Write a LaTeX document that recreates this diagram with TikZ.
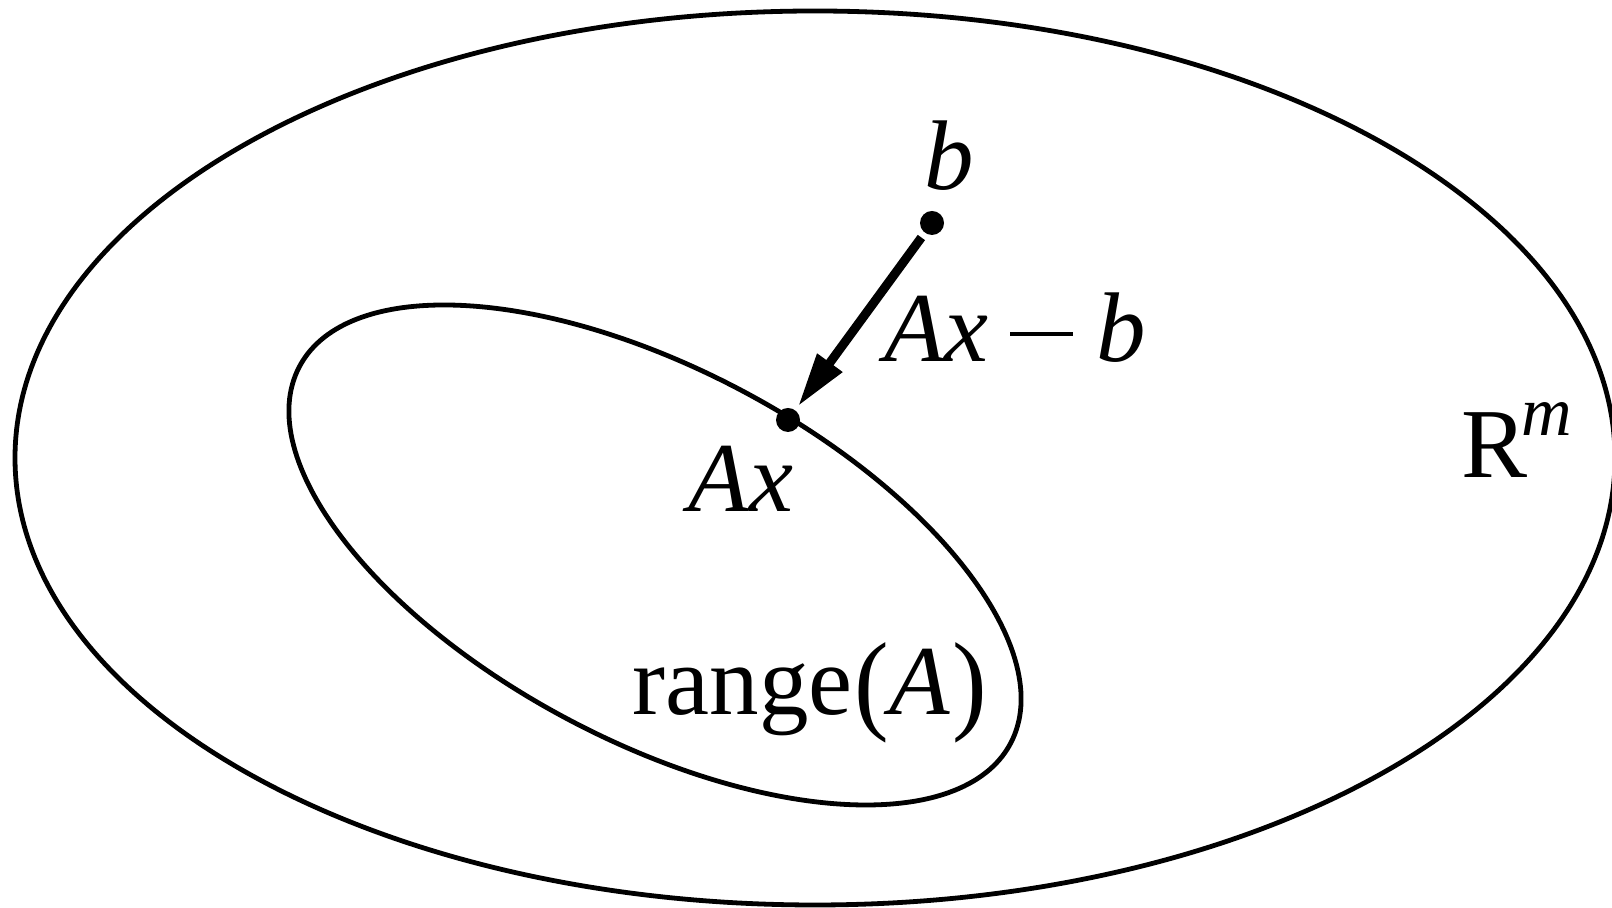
\documentclass[tikz,border=0pt]{standalone}
\usepackage{fontspec}
\setmainfont{Liberation Serif}[ItalicFont={Liberation Serif Italic}]
\usetikzlibrary{arrows.meta}
\begin{document}
\begin{tikzpicture}[x=0.5pt,y=0.5pt,
  curve/.style={line width=2.4pt},
  dot/.style={circle,fill=black,inner sep=0pt,outer sep=0pt,minimum size=12pt},
  lbl/.style={inner sep=0pt,anchor=base,font=\fontsize{49.5}{59}\selectfont},
  vec/.style={line width=4.5pt,-{Triangle[length=27pt,width=14.5pt]},shorten <=3pt,shorten >=2.5pt}]
\useasboundingbox (0,0) rectangle (1612,908);
% outer set R^m
\draw[curve] (815,450) ellipse [x radius=800, y radius=447];
% range(A)
\draw[curve, rotate around={-27.93:(655,353)}] (655,353) ellipse [x radius=402.4, y radius=185.9];
% points
\node[dot] (b) at (932,685) {};
\node[dot] (Ax) at (788,488) {};
\draw[vec] (b) -- (Ax);
% labels
\node[lbl] (lb) at (949,718) {\itshape b};
\node[lbl] (lres) at (1015,546) {\itshape Ax\hspace{0.22em}\rule[0.26em]{0.63em}{0.045em}\hspace{0.24em}b};
\node[lbl] (lAx) at (741,396) {\itshape Ax};
\node[lbl] (lrange) at (810,193) {range\hspace{0.02em}\raisebox{-0.05em}{\scalebox{1.05}[1.12]{(}}\textit{A}\hspace{0.03em}\raisebox{-0.05em}{\scalebox{1.05}[1.12]{)}}};
\node[lbl, anchor=base west] (lR) at (1461,430) {R\kern-3pt\raisebox{21pt}{\fontsize{35}{42}\selectfont\itshape m}};
\end{tikzpicture}
\end{document}
